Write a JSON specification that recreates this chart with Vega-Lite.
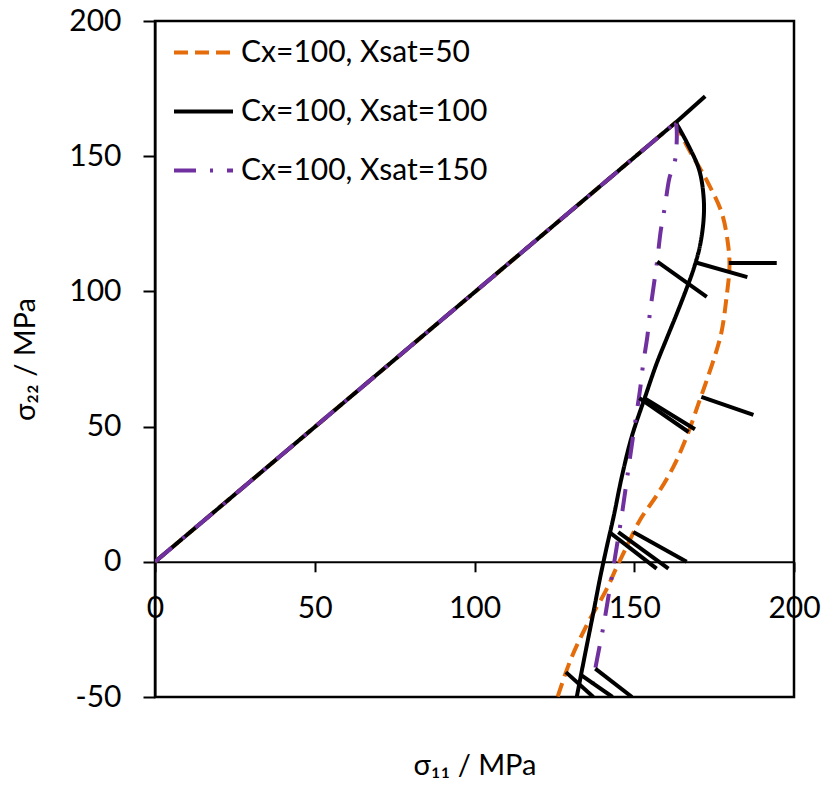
{
  "$schema": "https://vega.github.io/schema/vega-lite/v6.json",
  "width": 639,
  "height": 676,
  "autosize": "none",
  "padding": {"left": 155, "top": 21, "right": 29, "bottom": 88},
  "background": "white",
  "config": {"view": {"stroke": "#000000", "strokeWidth": 2.5}, "font": "Lato"},
  "datasets": {
    "curves": [
      {"s": "Cx=100, Xsat=50", "p": "L", "i": 0, "x": 0, "y": 0},
      {"s": "Cx=100, Xsat=50", "p": "L", "i": 1, "x": 163, "y": 162.5},
      {"s": "Cx=100, Xsat=50", "p": "E", "i": 1, "x": 163, "y": 162.5},
      {"s": "Cx=100, Xsat=50", "p": "E", "i": 2, "x": 166.4, "y": 154},
      {"s": "Cx=100, Xsat=50", "p": "E", "i": 3, "x": 169.8, "y": 147},
      {"s": "Cx=100, Xsat=50", "p": "E", "i": 4, "x": 172.7, "y": 141},
      {"s": "Cx=100, Xsat=50", "p": "E", "i": 5, "x": 177.4, "y": 129},
      {"s": "Cx=100, Xsat=50", "p": "E", "i": 6, "x": 179.4, "y": 117},
      {"s": "Cx=100, Xsat=50", "p": "E", "i": 7, "x": 179.8, "y": 109},
      {"s": "Cx=100, Xsat=50", "p": "E", "i": 8, "x": 178.9, "y": 98},
      {"s": "Cx=100, Xsat=50", "p": "E", "i": 9, "x": 177.4, "y": 85.5},
      {"s": "Cx=100, Xsat=50", "p": "E", "i": 10, "x": 175.8, "y": 78.3},
      {"s": "Cx=100, Xsat=50", "p": "E", "i": 11, "x": 172.7, "y": 67.2},
      {"s": "Cx=100, Xsat=50", "p": "E", "i": 12, "x": 170.1, "y": 58.5},
      {"s": "Cx=100, Xsat=50", "p": "E", "i": 13, "x": 166.4, "y": 46.2},
      {"s": "Cx=100, Xsat=50", "p": "E", "i": 14, "x": 162.2, "y": 35},
      {"s": "Cx=100, Xsat=50", "p": "E", "i": 15, "x": 157, "y": 24.5},
      {"s": "Cx=100, Xsat=50", "p": "E", "i": 16, "x": 151.8, "y": 15.5},
      {"s": "Cx=100, Xsat=50", "p": "E", "i": 17, "x": 147.6, "y": 5.5},
      {"s": "Cx=100, Xsat=50", "p": "E", "i": 18, "x": 144.5, "y": -2},
      {"s": "Cx=100, Xsat=50", "p": "E", "i": 19, "x": 141.2, "y": -10.5},
      {"s": "Cx=100, Xsat=50", "p": "E", "i": 20, "x": 135.3, "y": -23},
      {"s": "Cx=100, Xsat=50", "p": "E", "i": 21, "x": 130, "y": -36.5},
      {"s": "Cx=100, Xsat=50", "p": "E", "i": 22, "x": 126, "y": -50},
      {"s": "Cx=100, Xsat=100", "p": "L", "i": 0, "x": 0, "y": 0},
      {"s": "Cx=100, Xsat=100", "p": "L", "i": 1, "x": 163, "y": 162.5},
      {"s": "Cx=100, Xsat=100", "p": "E", "i": 1, "x": 163, "y": 162.5},
      {"s": "Cx=100, Xsat=100", "p": "E", "i": 2, "x": 166.5, "y": 155},
      {"s": "Cx=100, Xsat=100", "p": "E", "i": 3, "x": 170.3, "y": 145},
      {"s": "Cx=100, Xsat=100", "p": "E", "i": 4, "x": 171.7, "y": 135},
      {"s": "Cx=100, Xsat=100", "p": "E", "i": 5, "x": 171.7, "y": 126.5},
      {"s": "Cx=100, Xsat=100", "p": "E", "i": 6, "x": 170.5, "y": 116.5},
      {"s": "Cx=100, Xsat=100", "p": "E", "i": 7, "x": 168.5, "y": 108},
      {"s": "Cx=100, Xsat=100", "p": "E", "i": 8, "x": 166.2, "y": 100.5},
      {"s": "Cx=100, Xsat=100", "p": "E", "i": 9, "x": 163.4, "y": 92},
      {"s": "Cx=100, Xsat=100", "p": "E", "i": 10, "x": 160.3, "y": 83},
      {"s": "Cx=100, Xsat=100", "p": "E", "i": 11, "x": 157, "y": 73.3},
      {"s": "Cx=100, Xsat=100", "p": "E", "i": 12, "x": 153.4, "y": 61},
      {"s": "Cx=100, Xsat=100", "p": "E", "i": 13, "x": 149.2, "y": 46.2},
      {"s": "Cx=100, Xsat=100", "p": "E", "i": 14, "x": 146.1, "y": 31.4},
      {"s": "Cx=100, Xsat=100", "p": "E", "i": 15, "x": 143.6, "y": 17},
      {"s": "Cx=100, Xsat=100", "p": "E", "i": 16, "x": 141.3, "y": 5},
      {"s": "Cx=100, Xsat=100", "p": "E", "i": 17, "x": 139.3, "y": -6},
      {"s": "Cx=100, Xsat=100", "p": "E", "i": 18, "x": 137, "y": -20},
      {"s": "Cx=100, Xsat=100", "p": "E", "i": 19, "x": 134.8, "y": -33},
      {"s": "Cx=100, Xsat=100", "p": "E", "i": 20, "x": 132, "y": -50},
      {"s": "Cx=100, Xsat=150", "p": "L", "i": 0, "x": 0, "y": 0},
      {"s": "Cx=100, Xsat=150", "p": "L", "i": 1, "x": 163, "y": 162.5},
      {"s": "Cx=100, Xsat=150", "p": "E", "i": 1, "x": 163, "y": 162.5},
      {"s": "Cx=100, Xsat=150", "p": "E", "i": 2, "x": 163.3, "y": 159.8},
      {"s": "Cx=100, Xsat=150", "p": "E", "i": 3, "x": 162.8, "y": 148.6},
      {"s": "Cx=100, Xsat=150", "p": "E", "i": 4, "x": 161, "y": 141.9},
      {"s": "Cx=100, Xsat=150", "p": "E", "i": 5, "x": 159.6, "y": 131.4},
      {"s": "Cx=100, Xsat=150", "p": "E", "i": 6, "x": 158.3, "y": 122.5},
      {"s": "Cx=100, Xsat=150", "p": "E", "i": 7, "x": 157.2, "y": 111.6},
      {"s": "Cx=100, Xsat=150", "p": "E", "i": 8, "x": 156.2, "y": 103},
      {"s": "Cx=100, Xsat=150", "p": "E", "i": 9, "x": 154.9, "y": 92},
      {"s": "Cx=100, Xsat=150", "p": "E", "i": 10, "x": 154.1, "y": 83.3},
      {"s": "Cx=100, Xsat=150", "p": "E", "i": 11, "x": 152.8, "y": 73.3},
      {"s": "Cx=100, Xsat=150", "p": "E", "i": 12, "x": 151.8, "y": 63.5},
      {"s": "Cx=100, Xsat=150", "p": "E", "i": 13, "x": 150.7, "y": 54.8},
      {"s": "Cx=100, Xsat=150", "p": "E", "i": 14, "x": 149.3, "y": 43.7},
      {"s": "Cx=100, Xsat=150", "p": "E", "i": 15, "x": 148.1, "y": 33.8},
      {"s": "Cx=100, Xsat=150", "p": "E", "i": 16, "x": 147, "y": 24.6},
      {"s": "Cx=100, Xsat=150", "p": "E", "i": 17, "x": 145.7, "y": 14.1},
      {"s": "Cx=100, Xsat=150", "p": "E", "i": 18, "x": 144.5, "y": 5.4},
      {"s": "Cx=100, Xsat=150", "p": "E", "i": 19, "x": 143.3, "y": -3.2},
      {"s": "Cx=100, Xsat=150", "p": "E", "i": 20, "x": 141.9, "y": -13},
      {"s": "Cx=100, Xsat=150", "p": "E", "i": 21, "x": 140.3, "y": -24.2},
      {"s": "Cx=100, Xsat=150", "p": "E", "i": 22, "x": 138.9, "y": -32.8},
      {"s": "Cx=100, Xsat=150", "p": "E", "i": 23, "x": 137.7, "y": -40.2},
      {"s": "Cx=100, Xsat=150", "p": "E", "i": 24, "x": 136.3, "y": -50}
    ],
    "ticks": [
      {"t": 0, "i": 0, "x": 163, "y": 162.5}, {"t": 0, "i": 1, "x": 172.2, "y": 172.2},
      {"t": 1, "i": 0, "x": 157.2, "y": 111}, {"t": 1, "i": 1, "x": 172.7, "y": 98},
      {"t": 2, "i": 0, "x": 169.3, "y": 110.7}, {"t": 2, "i": 1, "x": 185.4, "y": 105.3},
      {"t": 3, "i": 0, "x": 179.6, "y": 110.5}, {"t": 3, "i": 1, "x": 194.6, "y": 110.5},
      {"t": 4, "i": 0, "x": 171, "y": 61}, {"t": 4, "i": 1, "x": 187.3, "y": 54.3},
      {"t": 5, "i": 0, "x": 153.2, "y": 60.5}, {"t": 5, "i": 1, "x": 169, "y": 49},
      {"t": 6, "i": 0, "x": 151.6, "y": 60.5}, {"t": 6, "i": 1, "x": 167, "y": 48},
      {"t": 7, "i": 0, "x": 142.4, "y": 10.8}, {"t": 7, "i": 1, "x": 157, "y": -2.5},
      {"t": 8, "i": 0, "x": 145, "y": 11}, {"t": 8, "i": 1, "x": 160.7, "y": -2.5},
      {"t": 9, "i": 0, "x": 149.7, "y": 11}, {"t": 9, "i": 1, "x": 166.4, "y": 0},
      {"t": 10, "i": 0, "x": 128.6, "y": -40.8}, {"t": 10, "i": 1, "x": 137.2, "y": -50},
      {"t": 11, "i": 0, "x": 133.5, "y": -42}, {"t": 11, "i": 1, "x": 143.2, "y": -50},
      {"t": 12, "i": 0, "x": 137.8, "y": -39.5}, {"t": 12, "i": 1, "x": 149.3, "y": -50}
    ]
  },
  "encoding": {
    "x": {
      "field": "x", "type": "quantitative",
      "scale": {"domain": [0, 200], "nice": false, "zero": false},
      "axis": {
        "values": [0, 50, 100, 150, 200], "offset": -135.2,
        "domainColor": "#000000", "domainWidth": 2,
        "tickColor": "#000000", "tickWidth": 2, "tickSize": 10,
        "labelPadding": 22, "labelFont": "Lato", "labelFontSize": 30, "labelColor": "#000000",
        "labelFlush": false, "labelOverlap": false, "grid": false,
        "title": "σ₁₁ / MPa", "titleFont": "Lato", "titleFontSize": 29, "titleFontWeight": "normal",
        "titleColor": "#000000", "titleBaseline": "alphabetic", "titleY": 213
      }
    },
    "y": {
      "field": "y", "type": "quantitative",
      "scale": {"domain": [-50, 200], "nice": false, "zero": false},
      "axis": {
        "values": [-50, 0, 50, 100, 150, 200],
        "labelExpr": "datum.value < 0 ? '-' + abs(datum.value) : datum.label",
        "domainColor": "#000000", "domainWidth": 2,
        "tickColor": "#000000", "tickWidth": 2, "tickSize": 12,
        "labelPadding": 22, "labelFont": "Lato", "labelFontSize": 30, "labelColor": "#000000",
        "labelFlush": false, "labelOverlap": false, "grid": false,
        "title": "σ₂₂ / MPa", "titleFont": "Lato", "titleFontSize": 29, "titleFontWeight": "normal",
        "titleColor": "#000000", "titleBaseline": "alphabetic", "titleAlign": "center", "titleX": -121
      }
    }
  },
  "layer": [
    {
      "data": {"name": "curves"},
      "transform": [{"filter": "datum.p == 'L'"}],
      "mark": {"type": "line", "strokeWidth": 4, "clip": true},
      "encoding": {
        "color": {
          "field": "s", "type": "nominal",
          "scale": {"domain": ["Cx=100, Xsat=50", "Cx=100, Xsat=100", "Cx=100, Xsat=150"], "range": ["#E46C0A", "#000000", "#7030A0"]},
          "legend": {
            "title": null, "orient": "none", "legendX": 17, "legendY": 0,
            "symbolType": "stroke", "symbolSize": 3481, "symbolStrokeWidth": 4,
            "labelFont": "Lato", "labelFontSize": 30, "labelColor": "#000000", "labelOffset": 6, "labelLimit": 400,
            "rowPadding": 12, "padding": 0
          }
        },
        "strokeDash": {
          "field": "s", "type": "nominal",
          "scale": {"domain": ["Cx=100, Xsat=50", "Cx=100, Xsat=100", "Cx=100, Xsat=150"], "range": [[14, 7], [1, 0], [22, 14, 3, 14]]},
          "legend": {
            "title": null, "orient": "none", "legendX": 17, "legendY": 0,
            "symbolType": "stroke", "symbolSize": 3481, "symbolStrokeWidth": 4,
            "labelFont": "Lato", "labelFontSize": 30, "labelColor": "#000000", "labelOffset": 6, "labelLimit": 400,
            "rowPadding": 12, "padding": 0
          }
        },
        "order": {"field": "i", "type": "quantitative"}
      }
    },
    {
      "data": {"name": "curves"},
      "transform": [{"filter": "datum.p == 'E'"}],
      "mark": {"type": "line", "strokeWidth": 4, "clip": true, "interpolate": "catmull-rom"},
      "encoding": {
        "color": {"field": "s", "type": "nominal"},
        "strokeDash": {"field": "s", "type": "nominal"},
        "order": {"field": "i", "type": "quantitative"}
      }
    },
    {
      "data": {"name": "ticks"},
      "mark": {"type": "line", "strokeWidth": 4, "color": "#000000", "clip": true},
      "encoding": {
        "detail": {"field": "t", "type": "nominal"},
        "order": {"field": "i", "type": "quantitative"}
      }
    }
  ]
}
